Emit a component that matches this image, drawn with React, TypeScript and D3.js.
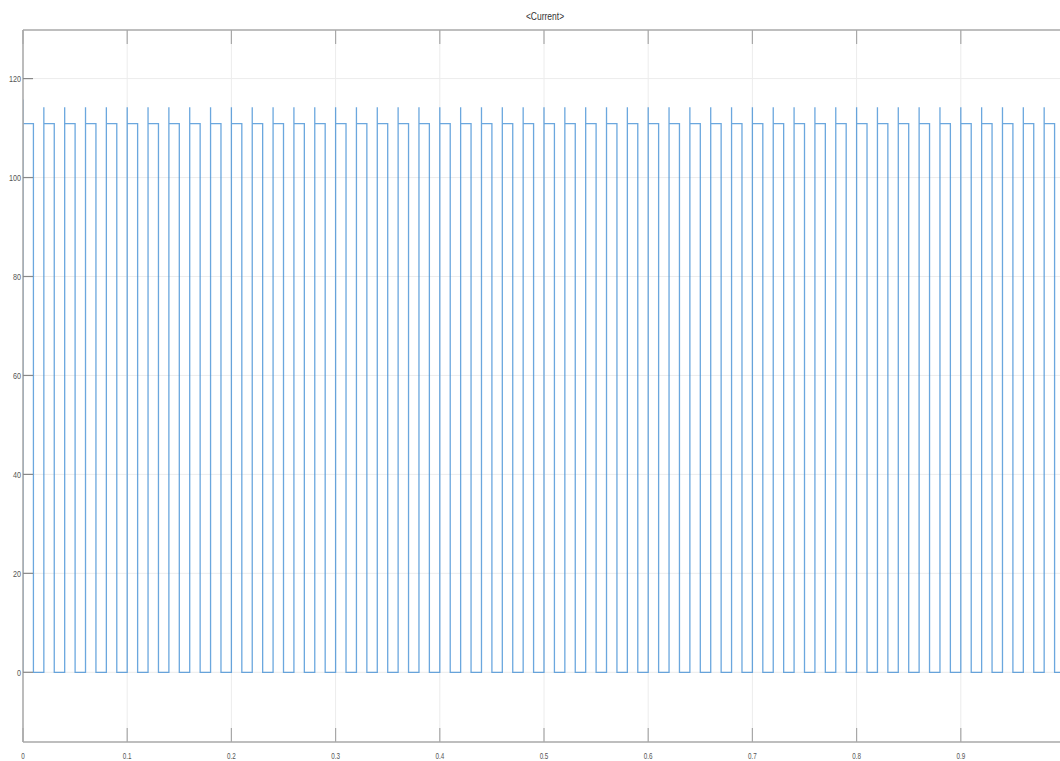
import React from "react";
import * as d3 from "d3";

// Scope trace "<Current>": a 50 Hz pulse train, one pulse per 20 ms.
const pulseOn: number[] = [
  0.0, 0.02, 0.04, 0.06, 0.08, 0.1, 0.12, 0.14, 0.16, 0.18,
  0.2, 0.22, 0.24, 0.26, 0.28, 0.3, 0.32, 0.34, 0.36, 0.38,
  0.4, 0.42, 0.44, 0.46, 0.48, 0.5, 0.52, 0.54, 0.56, 0.58,
  0.6, 0.62, 0.64, 0.66, 0.68, 0.7, 0.72, 0.74, 0.76, 0.78,
  0.8, 0.82, 0.84, 0.86, 0.88, 0.9, 0.92, 0.94, 0.96, 0.98,
];
const pulseOff: number[] = [
  0.01, 0.03, 0.05, 0.07, 0.09, 0.11, 0.13, 0.15, 0.17, 0.19,
  0.21, 0.23, 0.25, 0.27, 0.29, 0.31, 0.33, 0.35, 0.37, 0.39,
  0.41, 0.43, 0.45, 0.47, 0.49, 0.51, 0.53, 0.55, 0.57, 0.59,
  0.61, 0.63, 0.65, 0.67, 0.69, 0.71, 0.73, 0.75, 0.77, 0.79,
  0.81, 0.83, 0.85, 0.87, 0.89, 0.91, 0.93, 0.95, 0.97, 0.99,
];
// overshoot at each switch-on, then the settled plateau
const pulsePeak: number[] = [
  115.8, 114.2, 114.2, 114.2, 114.2, 114.2, 114.2, 114.2, 114.2, 114.2,
  114.2, 114.2, 114.2, 114.2, 114.2, 114.2, 114.2, 114.2, 114.2, 114.2,
  114.2, 114.2, 114.2, 114.2, 114.2, 114.2, 114.2, 114.2, 114.2, 114.2,
  114.2, 114.2, 114.2, 114.2, 114.2, 114.2, 114.2, 114.2, 114.2, 114.2,
  114.2, 114.2, 114.2, 114.2, 114.2, 114.2, 114.2, 114.2, 114.2, 114.2,
];
const plateau = 110.9;
const baseLevel = 0;
const endTime = 1.0;

const xTicks: number[] = [0, 0.1, 0.2, 0.3, 0.4, 0.5, 0.6, 0.7, 0.8, 0.9];
const xTickLabels: string[] = ["0", "0.1", "0.2", "0.3", "0.4", "0.5", "0.6", "0.7", "0.8", "0.9"];
const yTicks: number[] = [0, 20, 40, 60, 80, 100, 120];
const yTickLabels: string[] = ["0", "20", "40", "60", "80", "100", "120"];
const title = "<Current>";

const W = 1060;
const H = 761;
const frame = { left: 23, right: 1065, top: 30, bottom: 742 };

export default function App() {
  const x = d3.scaleLinear().domain([0, 1]).range([frame.left, frame.right]);
  const y = d3.scaleLinear().domain([0, 120]).range([672.3, 78.6]);

  const pts: [number, number][] = [];
  pulseOn.forEach((t, i) => {
    pts.push([t, baseLevel]);
    pts.push([t, pulsePeak[i]]);
    pts.push([t, plateau]);
    pts.push([pulseOff[i], plateau]);
    pts.push([pulseOff[i], baseLevel]);
  });
  pts.push([endTime, baseLevel]);

  const line = d3
    .line<[number, number]>()
    .x((d) => x(d[0]))
    .y((d) => y(d[1]));

  const axisColor = "#a8a8a8";
  const gridColor = "#ececec";
  const labelColor = "#555";

  return (
    <svg
      width={W}
      height={H}
      style={{ position: "absolute", left: 0, top: 0, background: "#fff" }}
      fontFamily="Arial, 'Liberation Sans', sans-serif"
    >
      <defs>
        <clipPath id="plot-clip">
          <rect
            x={frame.left}
            y={frame.top}
            width={frame.right - frame.left}
            height={frame.bottom - frame.top}
          />
        </clipPath>
      </defs>

      {/* grid */}
      {xTicks.map((t) => (
        <line
          key={"gx" + t}
          x1={x(t)}
          x2={x(t)}
          y1={frame.top}
          y2={frame.bottom}
          stroke={gridColor}
          strokeWidth={1}
        />
      ))}
      {yTicks.map((v) => (
        <line
          key={"gy" + v}
          x1={frame.left}
          x2={frame.right}
          y1={y(v)}
          y2={y(v)}
          stroke={gridColor}
          strokeWidth={1}
        />
      ))}

      {/* trace */}
      <path
        d={line(pts) ?? ""}
        fill="none"
        stroke="#3a8ad3"
        strokeOpacity={0.75}
        strokeWidth={1.3}
        clipPath="url(#plot-clip)"
      />

      {/* frame */}
      <line x1={frame.left} x2={frame.right} y1={frame.top} y2={frame.top} stroke={axisColor} strokeWidth={1.5} />
      <line x1={frame.left} x2={frame.right} y1={frame.bottom} y2={frame.bottom} stroke={axisColor} strokeWidth={1.5} />
      <line x1={frame.left} x2={frame.left} y1={frame.top} y2={frame.bottom} stroke={axisColor} strokeWidth={1.5} />

      {/* x ticks, top and bottom, pointing inward */}
      {xTicks.map((t) => (
        <g key={"tx" + t}>
          <line x1={x(t)} x2={x(t)} y1={frame.top} y2={frame.top + 14} stroke={axisColor} strokeWidth={1.2} />
          <line x1={x(t)} x2={x(t)} y1={frame.bottom} y2={frame.bottom - 14} stroke={axisColor} strokeWidth={1.2} />
        </g>
      ))}
      {/* y ticks */}
      {yTicks.map((v) => (
        <line key={"ty" + v} x1={frame.left} x2={frame.left + 10} y1={y(v)} y2={y(v)} stroke="#888" strokeWidth={1.2} />
      ))}

      {/* tick labels */}
      {xTicks.map((t, i) => (
        <text
          key={"lx" + t}
          transform={`translate(${x(t)},${759}) scale(0.7,1)`}
          textAnchor="middle"
          fontSize={9}
          fill={labelColor}
        >
          {xTickLabels[i]}
        </text>
      ))}
      {yTicks.map((v, i) => (
        <text
          key={"ly" + v}
          transform={`translate(${21},${y(v) + 3.5}) scale(0.8,1)`}
          textAnchor="end"
          fontSize={9}
          fill={labelColor}
        >
          {yTickLabels[i]}
        </text>
      ))}

      {/* title */}
      <text
        transform={`translate(${545},${20}) scale(0.85,1)`}
        textAnchor="middle"
        fontSize={10}
        fill="#333"
      >
        {title}
      </text>
    </svg>
  );
}
